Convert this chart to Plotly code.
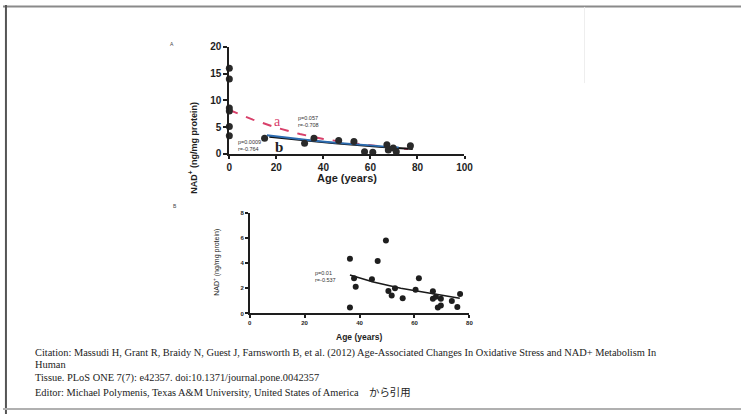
import plotly.graph_objects as go

W, H = 750, 419

# ---- Panel A data ----
a_age = [0, 0, 0, 0, 0, 0, 15, 32, 36, 46.5, 53, 57.5, 61, 67, 67.6, 69.7, 71, 77]
a_nad = [16, 14, 8.6, 8.0, 5.1, 3.4, 2.9, 2.0, 2.9, 2.5, 2.3, 0.4, 0.3, 1.7, 0.7, 1.1, 0.4, 1.5]
fit_a_x = [0, 10, 20, 30, 40, 50, 60, 70, 76]
fit_a_y = [8.2, 6.4, 4.9, 3.7, 2.8, 2.1, 1.6, 1.1, 0.9]
fit_b_blue_x = [16, 25, 35, 45, 55, 65, 72]
fit_b_blue_y = [3.5, 3.0, 2.5, 2.1, 1.7, 1.4, 1.2]
fit_b_black_x = [17, 25, 35, 45, 55, 65, 78]
fit_b_black_y = [3.2, 2.8, 2.4, 2.0, 1.6, 1.3, 0.9]

# ---- Panel B data ----
b_age = [36.5, 36.5, 38.6, 38, 44.5, 46.6, 49.6, 50.5, 51.7, 52.9, 55.7, 60.4, 61.6,
         66.7, 66.7, 67.8, 68.5, 69.6, 69.6, 73.6, 75.6, 76.6]
b_nad = [4.34, 0.47, 2.12, 2.8, 2.71, 4.16, 5.79, 1.78, 1.42, 2.0, 1.21, 1.89, 2.79,
         1.76, 1.16, 1.32, 0.47, 0.64, 1.16, 0.98, 0.52, 1.55]
fit_c_x = [36.5, 45, 55, 65, 76.5]
fit_c_y = [3.05, 2.5, 2.0, 1.6, 1.2]

citation = [
    "Citation: Massudi H, Grant R, Braidy N, Guest J, Farnsworth B, et al. (2012) Age-Associated Changes In Oxidative Stress and NAD+ Metabolism In",
    "Human",
    "Tissue. PLoS ONE 7(7): e42357. doi:10.1371/journal.pone.0042357",
    "Editor: Michael Polymenis, Texas A&M University, United States of America　から引用",
]

def px(x):
    return x / W
def py(y):
    return 1 - y / H

fig = go.Figure()
ink = "#1e1e1e"

fig.add_trace(go.Scatter(x=fit_a_x, y=fit_a_y, mode="lines", xaxis="x", yaxis="y",
                         line=dict(color="#d8406a", width=2, dash="dash"), showlegend=False))
fig.add_trace(go.Scatter(x=fit_b_black_x, y=fit_b_black_y, mode="lines", xaxis="x", yaxis="y",
                         line=dict(color="#111111", width=2), showlegend=False))
fig.add_trace(go.Scatter(x=fit_b_blue_x, y=fit_b_blue_y, mode="lines", xaxis="x", yaxis="y",
                         line=dict(color="#2d6cb0", width=2), showlegend=False))
fig.add_trace(go.Scatter(x=a_age, y=a_nad, mode="markers", xaxis="x", yaxis="y", cliponaxis=False,
                         marker=dict(size=7, color="#2a2a2a"), showlegend=False))

fig.add_trace(go.Scatter(x=fit_c_x, y=fit_c_y, mode="lines", xaxis="x2", yaxis="y2",
                         line=dict(color="#1a1a1a", width=1.6), showlegend=False))
fig.add_trace(go.Scatter(x=b_age, y=b_nad, mode="markers", xaxis="x2", yaxis="y2", cliponaxis=False,
                         marker=dict(size=6, color="#1e1e1e"), showlegend=False))

axcommon = dict(showgrid=False, zeroline=False, showline=True, linecolor=ink,
                ticks="outside", tickcolor=ink)

fig.update_layout(
    width=W, height=H, margin=dict(l=0, r=0, t=0, b=0),
    paper_bgcolor="white", plot_bgcolor="rgba(0,0,0,0)",
    font=dict(family="Liberation Sans, Arial", color=ink),
    xaxis=dict(domain=[px(230), px(469)], range=[0, 100], anchor="y",
               tickvals=[0, 20, 40, 60, 80, 100], linewidth=2, tickwidth=2, ticklen=3,
               tickfont=dict(size=10, weight="bold"), **axcommon),
    yaxis=dict(domain=[py(152.5), py(43)], range=[0, 20], anchor="x",
               tickvals=[0, 5, 10, 15, 20], linewidth=2, tickwidth=2, ticklen=4,
               tickfont=dict(size=10, weight="bold"), **axcommon),
    xaxis2=dict(domain=[px(250.7), px(474)], range=[0, 80], anchor="y2",
                tickvals=[0, 20, 40, 60, 80], linewidth=1.5, tickwidth=1.5, ticklen=3,
                tickfont=dict(size=6, weight="bold"), **axcommon),
    yaxis2=dict(domain=[py(316), py(212.7)], range=[0, 8], anchor="x2",
                tickvals=[0, 2, 4, 6, 8], linewidth=1.5, tickwidth=1.5, ticklen=3,
                tickfont=dict(size=6, weight="bold"), **axcommon),
)

ann = []
# axis titles
ann.append(dict(x=px(350), y=py(177), xref="paper", yref="paper", text="<b>Age (years)</b>",
                showarrow=False, font=dict(size=11, color=ink)))
ann.append(dict(x=px(185), y=py(97), xref="paper", yref="paper",
                text="<b>NAD<sup>+</sup> (ng/mg protein)</b>", textangle=-90,
                showarrow=False, font=dict(size=9, color=ink)))
ann.append(dict(x=px(362), y=py(333), xref="paper", yref="paper", text="<b>Age (years)</b>",
                yanchor="top", showarrow=False, font=dict(size=8.5, color=ink)))
ann.append(dict(x=px(211), y=py(264), xref="paper", yref="paper",
                text="NAD<sup>+</sup> (ng/mg protein)", textangle=-90,
                showarrow=False, font=dict(size=7, color=ink)))
# panel labels
ann.append(dict(x=px(168), y=py(35), xref="paper", yref="paper", text="A",
                showarrow=False, font=dict(size=5, color="#444")))
ann.append(dict(x=px(171), y=py(206), xref="paper", yref="paper", text="B",
                showarrow=False, font=dict(size=5, color="#444")))
# curve labels
ann.append(dict(x=20.3, y=6.1, xref="x", yref="y", text="a", showarrow=False,
                font=dict(size=14, color="#d8406a", family="Liberation Serif")))
ann.append(dict(x=21, y=1.3, xref="x", yref="y", text="<b>b</b>", showarrow=False,
                font=dict(size=15, color="#222", family="Liberation Serif")))
ann.append(dict(x=28.5, y=6.0, xref="x", yref="y", text="p=0.057<br>r=-0.708", showarrow=False,
                xanchor="left", align="left", font=dict(size=5.5, color="#333")))
ann.append(dict(x=3, y=1.6, xref="x", yref="y", text="p=0.0009<br>r=-0.764", showarrow=False,
                xanchor="left", align="left", font=dict(size=5.5, color="#333")))
ann.append(dict(x=23, y=2.9, xref="x2", yref="y2", text="p=0.01<br>r=-0.537", showarrow=False,
                xanchor="left", align="left", font=dict(size=5.5, color="#333")))
# citation
for txt, yy in zip(citation, [356, 368, 382, 396]):
    ann.append(dict(x=px(30), y=py(yy), xref="paper", yref="paper", text=txt, showarrow=False,
                    xanchor="left", yanchor="middle",
                    font=dict(size=10.4, color="#222", family="Liberation Serif, Noto Sans CJK JP")))
fig.update_layout(annotations=ann)

# page frame from the photographed page
fig.update_layout(shapes=[
    dict(type="line", xref="paper", yref="paper", x0=0, x1=1, y0=py(1.5), y1=py(1.5),
         line=dict(color="#8a8a8a", width=2)),
    dict(type="line", xref="paper", yref="paper", x0=px(3), x1=px(3), y0=py(0), y1=py(419),
         line=dict(color="#555", width=2)),
    dict(type="line", xref="paper", yref="paper", x0=0, x1=1, y0=py(414), y1=py(414),
         line=dict(color="#b0b0b0", width=2)),
    dict(type="line", xref="paper", yref="paper", x0=px(591), x1=px(591), y0=py(2), y1=py(80),
         line=dict(color="#eeeeee", width=1)),
])

fig.write_html("out.html", config={"displayModeBar": False},
               post_script="document.body.style.margin='0';document.body.style.overflow='hidden';")
